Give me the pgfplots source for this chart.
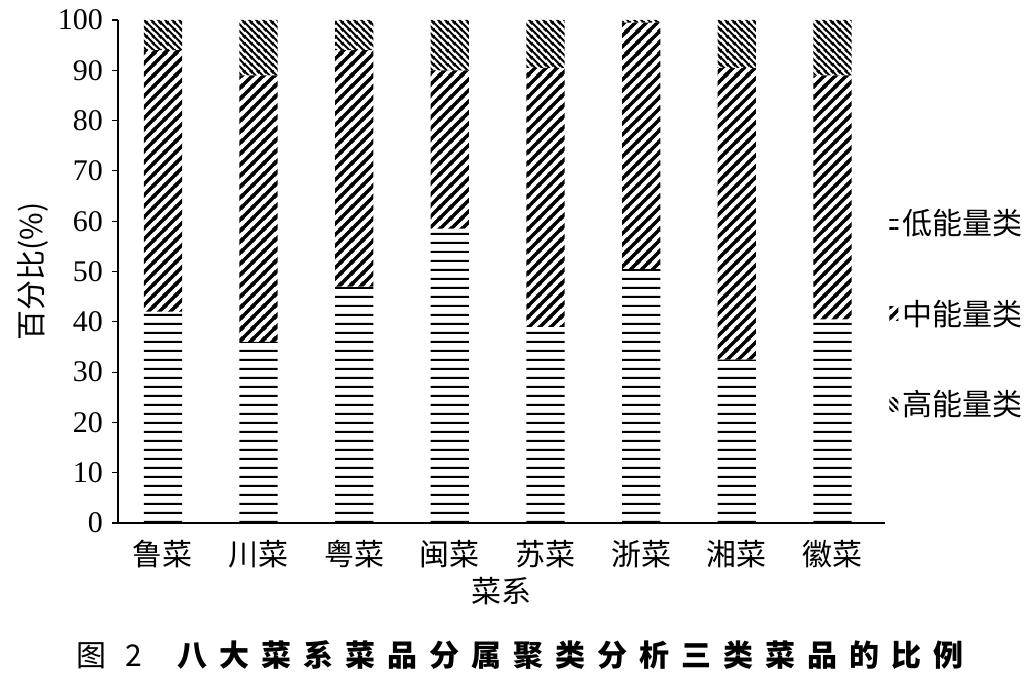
\documentclass[border=0pt]{standalone}
\usepackage{pgfplots}
\pgfplotsset{compat=1.18}
\usetikzlibrary{patterns}
\usepackage{fontspec}
\setmainfont{Liberation Serif}
\newfontfamily\cjk{Noto Sans CJK SC}
\newfontfamily\cjkcap[LetterSpace=40]{Noto Sans CJK SC}

% fill patterns of the three groups
\pgfdeclarepatternformonly{lowp}{\pgfqpoint{0pt}{0pt}}{\pgfqpoint{4.3pt}{4.3pt}}{\pgfqpoint{4.3pt}{4.3pt}}{%
  \pgfsetlinewidth{1.1pt}%
  \pgfpathmoveto{\pgfqpoint{-0.5pt}{2.15pt}}\pgfpathlineto{\pgfqpoint{4.8pt}{2.15pt}}%
  \pgfusepath{stroke}}
\pgfdeclarepatternformonly{midp}{\pgfqpoint{0pt}{0pt}}{\pgfqpoint{5.5pt}{5.5pt}}{\pgfqpoint{5.5pt}{5.5pt}}{%
  \pgfsetlinewidth{1.8pt}%
  \pgfpathmoveto{\pgfqpoint{-1.5pt}{-1.5pt}}\pgfpathlineto{\pgfqpoint{7pt}{7pt}}%
  \pgfpathmoveto{\pgfqpoint{-1.5pt}{4pt}}\pgfpathlineto{\pgfqpoint{1.5pt}{7pt}}%
  \pgfpathmoveto{\pgfqpoint{4pt}{-1.5pt}}\pgfpathlineto{\pgfqpoint{7pt}{1.5pt}}%
  \pgfusepath{stroke}}
\pgfdeclarepatternformonly{highp}{\pgfqpoint{0pt}{0pt}}{\pgfqpoint{3.5pt}{3.5pt}}{\pgfqpoint{3.5pt}{3.5pt}}{%
  \pgfsetlinewidth{1.1pt}%
  \pgfpathmoveto{\pgfqpoint{-1pt}{4.5pt}}\pgfpathlineto{\pgfqpoint{4.5pt}{-1pt}}%
  \pgfpathmoveto{\pgfqpoint{-1pt}{1pt}}\pgfpathlineto{\pgfqpoint{1pt}{-1pt}}%
  \pgfpathmoveto{\pgfqpoint{2.5pt}{4.5pt}}\pgfpathlineto{\pgfqpoint{4.5pt}{2.5pt}}%
  \pgfusepath{stroke}}

\begin{document}
\begin{tikzpicture}
\useasboundingbox (-59pt,-78.5pt) rectangle (454pt,261.5pt);
\begin{axis}[
  width=383.5pt, height=251.5pt, scale only axis,
  ybar stacked,
  bar width=0.4,
  xmin=-0.47, xmax=7.55,
  ymin=0, ymax=100,
  axis x line*=bottom,
  axis y line*=left,
  ytick={0,10,...,100},
  xtick={0,...,7},
  xticklabels={鲁菜,川菜,粤菜,闽菜,苏菜,浙菜,湘菜,徽菜},
  x tick style={draw=none},
  y tick style={black, line width=0.6pt},
  tick align=outside,
  major tick length=3pt,
  axis line style={line width=0.8pt},
  xticklabel style={font=\cjk\fontsize{15}{18}\selectfont, yshift=-2pt},
  yticklabel style={font=\fontsize{15}{18}\selectfont, xshift=-1pt},
  /pgf/number format/assume math mode=true,
  ylabel={百分比(\%)},
  ylabel style={font=\cjk\fontsize{15}{18}\selectfont, yshift=-2pt},
  xlabel={菜系},
  xlabel style={font=\cjk\fontsize{15}{18}\selectfont, yshift=2pt},
  every axis plot post/.append style={
    draw=none,
    legend image code/.code={\fill[##1] (1pt,-3.5pt) rectangle (5.5pt,3.5pt);}},
  legend style={draw=none, fill=none, at={(rel axis cs:1.0,0.632)},
    anchor=north west, inner sep=0pt, xshift=2pt,
    row sep=27pt, font=\cjk\fontsize{15}{18}\selectfont,
    cells={anchor=west}},
]
\addplot[pattern=lowp] coordinates {
  (0,42) (1,36) (2,47) (3,58.5) (4,39) (5,50.5) (6,32.5) (7,40.5)};
\addplot[pattern=midp] coordinates {
  (0,52) (1,53) (2,47) (3,31.5) (4,51.5) (5,49) (6,58) (7,48.5)};
\addplot[pattern=highp] coordinates {
  (0,6) (1,11) (2,6) (3,10) (4,9.5) (5,0.5) (6,9.5) (7,11)};
\legend{低能量类,中能量类,高能量类}
\end{axis}
\node at (201pt,-66pt) {\fontsize{15}{18}\selectfont\cjkcap 图 2\hspace{1.2em}\bfseries 八大菜系菜品分属聚类分析三类菜品的比例};
\end{tikzpicture}
\end{document}
